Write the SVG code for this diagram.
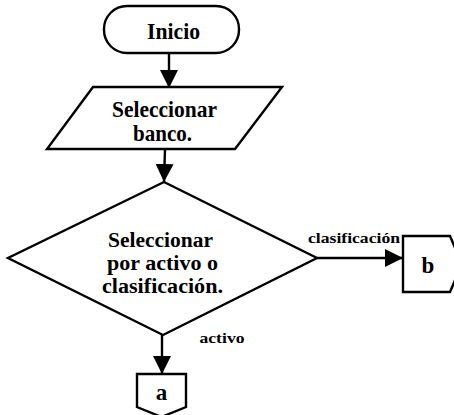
<svg xmlns="http://www.w3.org/2000/svg" width="454" height="415" viewBox="0 0 454 415">
<style>
.s{fill:#fff;stroke:#000;stroke-width:2.4;stroke-linejoin:miter}
.t{font-family:"Liberation Serif","Times New Roman",serif;font-weight:bold;font-size:23px;fill:#000;text-anchor:middle}
.d{font-size:20px}
.l{font-family:"Liberation Serif","Times New Roman",serif;font-weight:bold;font-size:15px;fill:#000;text-anchor:middle}
.c{stroke:#000;stroke-width:2.4;fill:none}
</style>
<defs>
<marker id="ah" markerUnits="userSpaceOnUse" markerWidth="20" markerHeight="20" refX="18" refY="9" orient="auto">
<path d="M0,0 L18,9 L0,18 Z" fill="#000"/>
</marker>
</defs>
<rect width="454" height="415" fill="#fff"/>
<g id="connectors">
<line class="c" x1="169" y1="53" x2="169" y2="88" marker-end="url(#ah)"/>
<line class="c" x1="165" y1="149" x2="164" y2="182" marker-end="url(#ah)"/>
<line class="c" x1="317" y1="258" x2="403" y2="258" marker-end="url(#ah)"/>
<line class="c" x1="162" y1="335" x2="162" y2="374" marker-end="url(#ah)"/>
<text class="l" x="354" y="243" textLength="92" lengthAdjust="spacingAndGlyphs">clasificación</text>
<text class="l" x="222" y="343" textLength="45" lengthAdjust="spacingAndGlyphs">activo</text>
</g>
<g id="inicio">
<rect class="s" x="104" y="6" width="135" height="47" rx="23" ry="23"/>
<text class="t" x="173.5" y="39" textLength="53" lengthAdjust="spacingAndGlyphs">Inicio</text>
</g>
<g id="seleccionar-banco">
<polygon class="s" points="93,87 282,87 235,149 47,149"/>
<text class="t" x="164.5" y="117" textLength="105" lengthAdjust="spacingAndGlyphs">Seleccionar</text>
<text class="t" x="162.5" y="141" textLength="59" lengthAdjust="spacingAndGlyphs">banco.</text>
</g>
<g id="decision">
<polygon class="s" points="164,182 317,258 163,335 8,258"/>
<text class="t d" x="160.5" y="247" textLength="105" lengthAdjust="spacingAndGlyphs">Seleccionar</text>
<text class="t d" x="162.5" y="270" textLength="111" lengthAdjust="spacingAndGlyphs">por activo o</text>
<text class="t d" x="162.5" y="293" textLength="121" lengthAdjust="spacingAndGlyphs">clasificación.</text>
</g>
<g id="connector-b">
<polygon class="s" points="403,236 450,236 462,264 450,292 403,292"/>
<text class="t" x="428" y="273" font-size="24">b</text>
</g>
<g id="connector-a">
<polygon class="s" points="137,374 186,374 186,407 161.5,417 137,407"/>
<text class="t" x="161.5" y="400" font-size="21">a</text>
</g>
</svg>
